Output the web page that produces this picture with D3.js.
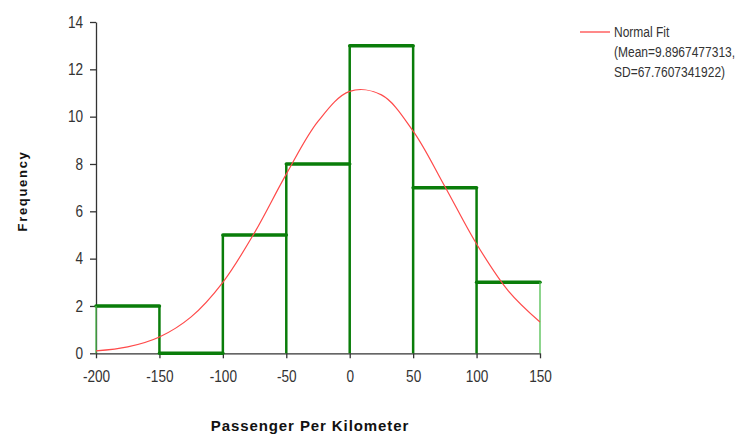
<!DOCTYPE html>
<html>
<head>
<meta charset="utf-8">
<script src="https://cdn.jsdelivr.net/npm/d3@7"></script>
<style>
  html, body { margin: 0; padding: 0; background: #fff; }
  svg { display: block; }
  .tick text { font-family: "Liberation Sans", Arial, sans-serif; font-size: 16px; fill: #333; }
  .axis path, .axis line { stroke: #333; stroke-width: 1.3; }
</style>
</head>
<body>
<svg id="chart" width="745" height="438"></svg>
<script>
// Histogram bins (edges, width 50) and their frequencies
const binEdges = [-200, -150, -100, -50, 0, 50, 100, 150];
const frequencies = [2, 0, 5, 8, 13, 7, 3];

// Fitted normal curve, sampled every 25 units
const fitX = [-200, -175, -150, -125, -100, -75, -50, -25, 0, 25, 50, 75, 100, 125, 150];
const fitY = [0.10, 0.27, 0.69, 1.54, 3.00, 5.10, 7.57, 9.80, 11.07, 10.92, 9.39, 7.05, 4.62, 2.64, 1.32];

// Axis ticks
const xTicks = [-200, -150, -100, -50, 0, 50, 100, 150];
const yTicks = [0, 2, 4, 6, 8, 10, 12, 14];

const legendLines = ["Normal Fit", "(Mean=9.8967477313,", "SD=67.7607341922)"];

const squeeze = 0.85; // horizontal condensing of the narrow label face

const svg = d3.select("#chart");
const x = d3.scaleLinear().domain([-200, 150]).range([96, 540]);
const y = d3.scaleLinear().domain([0, 14]).range([353.3, 22]);

// Axes
const gx = svg.append("g")
  .attr("class", "axis")
  .attr("transform", `translate(0,${y(0)})`)
  .call(d3.axisBottom(x).tickValues(xTicks).tickFormat(d => String(d))
    .tickSize(5).tickSizeOuter(0).tickPadding(12));
gx.selectAll(".tick text").attr("transform", `scale(${squeeze},1)`);

const gy = svg.append("g")
  .attr("class", "axis")
  .attr("transform", `translate(${x(-200)},0)`)
  .call(d3.axisLeft(y).tickValues(yTicks).tickFormat(d => String(d))
    .tickSize(6).tickSizeOuter(0).tickPadding(7));
gy.selectAll(".tick text")
  .attr("x", -13 / squeeze)
  .attr("transform", `scale(${squeeze},1)`);

// Histogram outline: thick bin tops, vertical joins between neighbours
const green = "#0a7d0a";
const bars = svg.append("g");
frequencies.forEach((f, i) => {
  bars.append("line")
    .attr("x1", x(binEdges[i])).attr("x2", x(binEdges[i + 1]))
    .attr("y1", y(f)).attr("y2", y(f))
    .attr("stroke", green).attr("stroke-width", 3.5).attr("stroke-linecap", "round");
});
binEdges.forEach((e, i) => {
  const left = i > 0 ? frequencies[i - 1] : 0;
  const right = i < frequencies.length ? frequencies[i] : 0;
  const outer = i === 0 || i === binEdges.length - 1;
  bars.append("line")
    .attr("x1", x(e)).attr("x2", x(e))
    .attr("y1", y(0)).attr("y2", y(Math.max(left, right)))
    .attr("stroke", outer ? "#4fbf4f" : green)
    .attr("stroke-width", outer ? 1.3 : 2.5);
});

// Normal fit curve
const fit = fitX.map((v, i) => [v, fitY[i]]);
svg.append("path")
  .datum(fit)
  .attr("fill", "none")
  .attr("stroke", "#ff4a4a")
  .attr("stroke-width", 1.2)
  .attr("d", d3.line().x(d => x(d[0])).y(d => y(d[1])).curve(d3.curveCatmullRom));

// Legend
const lg = svg.append("g");
lg.append("line").attr("x1", 580).attr("x2", 610).attr("y1", 32).attr("y2", 32)
  .attr("stroke", "#ff4a4a").attr("stroke-width", 1.3);
lg.selectAll("text").data(legendLines).join("text")
  .attr("transform", (d, i) => `translate(614,${37 + i * 20}) scale(0.8,1)`)
  .attr("font-family", "'Liberation Sans', Arial, sans-serif")
  .attr("font-size", 15).attr("fill", "#333")
  .text(d => d);

// Axis titles
svg.append("text")
  .attr("x", 310).attr("y", 431)
  .attr("text-anchor", "middle")
  .attr("font-family", "'Liberation Sans', Arial, sans-serif")
  .attr("font-weight", "bold").attr("font-size", 15).attr("letter-spacing", 0.9)
  .attr("fill", "#111")
  .text("Passenger Per Kilometer");

svg.append("text")
  .attr("transform", "translate(27,191) rotate(-90)")
  .attr("text-anchor", "middle")
  .attr("font-family", "'Liberation Sans', Arial, sans-serif")
  .attr("font-weight", "bold").attr("font-size", 13).attr("letter-spacing", 1.7)
  .attr("fill", "#111")
  .text("Frequency");
</script>
</body>
</html>
